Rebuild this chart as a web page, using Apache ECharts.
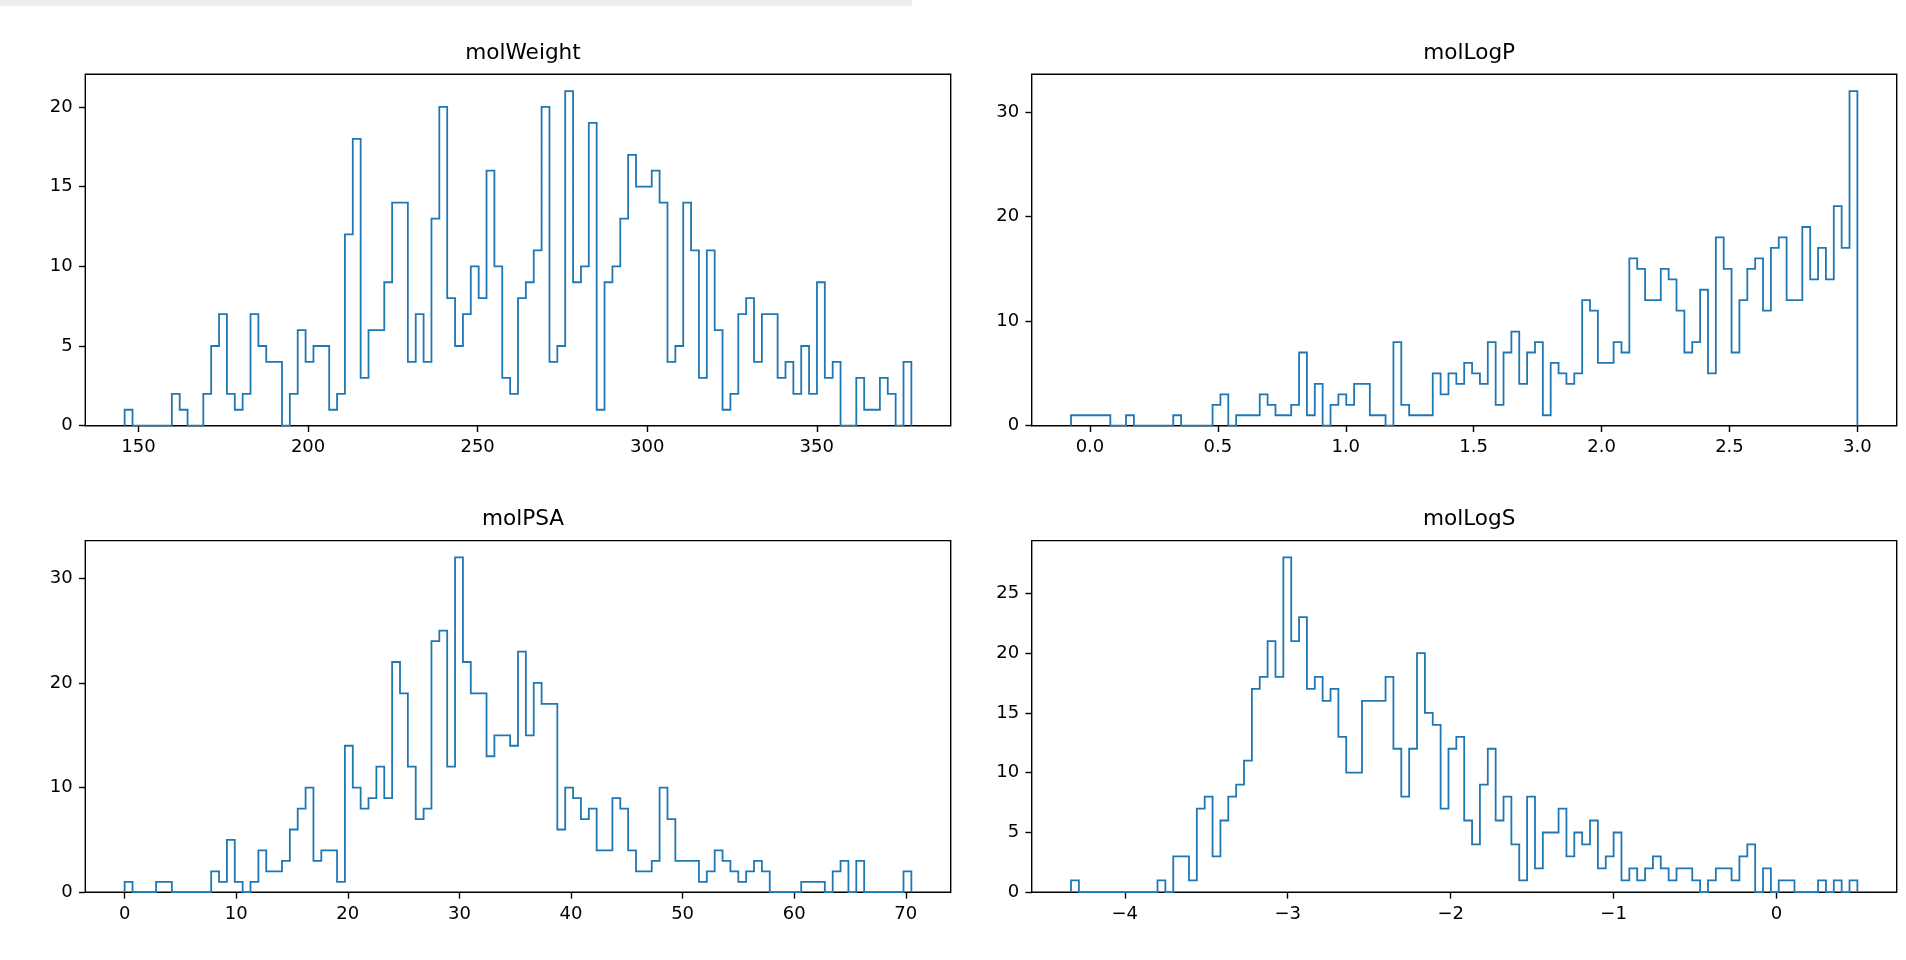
<!DOCTYPE html>
<html>
<head>
<meta charset="utf-8">
<script src="https://cdn.jsdelivr.net/npm/echarts@6/dist/echarts.min.js"></script>
<style>
  html, body { margin: 0; padding: 0; background: #ffffff; }
  #chart { width: 1906px; height: 960px; }
</style>
</head>
<body>
<div id="chart"></div>
<script>
// Histogram counts (100 equal-width bins per descriptor) and the data range each spans
const molWeightCounts = [
  1,0,0,0,0,0,2,1,0,0, 2,5,7,2,1,2,7,5,4,4, 0,2,6,4,5,5,1,2,12,18,
  3,6,6,9,14,14,4,7,4,13, 20,8,5,7,10,8,16,10,3,2, 8,9,11,20,4,5,21,9,10,19,
  1,9,10,13,17,15,15,16,14,4, 5,14,11,3,11,6,1,2,7,8, 4,7,7,3,4,2,5,2,9,3,
  4,0,0,3,1,1,3,2,0,4
];
const molWeightRange = [145.9, 377.9];
const molWeightTicks = [150, 200, 250, 300, 350];

const molLogPCounts = [
  1,1,1,1,1,0,0,1,0,0, 0,0,0,1,0,0,0,0,2,3, 0,1,1,1,3,2,1,1,2,7,
  1,4,0,2,3,2,4,4,1,1, 0,8,2,1,1,1,5,3,5,4, 6,5,4,8,2,7,9,4,7,8,
  1,6,5,4,5,12,11,6,6,8, 7,16,15,12,12,15,14,11,7,8, 13,5,18,15,7,12,15,16,11,17,
  18,12,12,19,14,17,14,21,17,32
];
const molLogPRange = [-0.074, 3.0];
const molLogPTicks = [0.0, 0.5, 1.0, 1.5, 2.0, 2.5, 3.0];

const molPSACounts = [
  1,0,0,0,1,1,0,0,0,0, 0,2,1,5,1,0,1,4,2,2, 3,6,8,10,3,4,4,1,14,10,
  8,9,12,9,22,19,12,7,8,24, 25,12,32,22,19,19,13,15,15,14, 23,15,20,18,18,6,10,9,7,8,
  4,4,9,8,4,2,2,3,10,7, 3,3,3,1,2,4,3,2,1,2, 3,2,0,0,0,0,1,1,1,0,
  2,3,0,3,0,0,0,0,0,2
];
const molPSARange = [0.0, 70.5];
const molPSATicks = [0, 10, 20, 30, 40, 50, 60, 70];

const molLogSCounts = [
  1,0,0,0,0,0,0,0,0,0, 0,1,0,3,3,1,7,8,3,6, 8,9,11,17,18,21,18,28,21,23,
  17,18,16,17,13,10,10,16,16,16, 18,12,8,12,20,15,14,7,12,13, 6,4,9,12,6,8,4,1,8,2,
  5,5,7,3,5,4,6,2,3,5, 1,2,1,2,3,2,1,2,2,1, 0,1,2,2,1,3,4,0,2,0,
  1,1,0,0,0,1,0,1,0,1
];
const molLogSRange = [-4.33, 0.496];
const molLogSTicks = [-4, -3, -2, -1, 0];

const panelTitles = ['molWeight', 'molLogP', 'molPSA', 'molLogS'];
const countTicks = [[0, 5, 10, 15, 20], [0, 10, 20, 30], [0, 10, 20, 30], [0, 5, 10, 15, 20, 25]];

const panels = [
  { counts: molWeightCounts, range: molWeightRange, ticks: molWeightTicks, fmt: v => String(v) },
  { counts: molLogPCounts, range: molLogPRange, ticks: molLogPTicks, fmt: v => v.toFixed(1) },
  { counts: molPSACounts, range: molPSARange, ticks: molPSATicks, fmt: v => String(v) },
  { counts: molLogSCounts, range: molLogSRange, ticks: molLogSTicks, fmt: v => (v < 0 ? '\u2212' + Math.abs(v) : String(v)) }
];

// Plot boxes of the 2x2 layout
const boxes = [
  { left: 85.3, top: 74.3, width: 865.4, height: 351.4 },
  { left: 1031.7, top: 74.3, width: 865.0, height: 351.4 },
  { left: 85.3, top: 540.6, width: 865.4, height: 351.7 },
  { left: 1031.7, top: 540.6, width: 865.0, height: 351.7 }
];

const FONT = 'DejaVu Sans';
const BLUE = '#1f77b4';

// Outline of a step histogram: rise at the first edge, one point per bin, drop at the last edge
function stepOutline(counts, range) {
  const n = counts.length;
  const w = (range[1] - range[0]) / n;
  const pts = [[range[0], 0]];
  counts.forEach((c, i) => pts.push([range[0] + i * w, c]));
  pts.push([range[1], counts[n - 1]]);
  pts.push([range[1], 0]);
  return pts;
}

const grid = boxes.map(b => ({
  left: b.left, top: b.top, width: b.width, height: b.height,
  show: true, borderColor: '#000000', borderWidth: 1.4, backgroundColor: 'transparent',
  containLabel: false
}));

const tickStyle = { color: '#000000', width: 1.4 };
const labelStyle = { color: '#000000', fontSize: 18, fontFamily: FONT };

const xAxis = panels.map((p, i) => {
  const span = p.range[1] - p.range[0];
  return {
    type: 'value', gridIndex: i, position: 'bottom',
    min: p.range[0] - 0.05 * span,
    max: p.range[1] + 0.05 * span,
    axisLine: { show: false, onZero: false },
    splitLine: { show: false },
    axisTick: { show: true, customValues: p.ticks, length: 6.3, inside: false, lineStyle: tickStyle },
    axisLabel: Object.assign({ customValues: p.ticks, margin: 12.6, formatter: p.fmt }, labelStyle)
  };
});

const yAxis = panels.map((p, i) => ({
  type: 'value', gridIndex: i, position: 'left',
  min: 0,
  max: 1.05 * Math.max(...p.counts),
  axisLine: { show: false, onZero: false },
  splitLine: { show: false },
  axisTick: { show: true, customValues: countTicks[i], length: 6.3, inside: false, lineStyle: tickStyle },
  axisLabel: Object.assign({ customValues: countTicks[i], margin: 12.6, formatter: v => String(v) }, labelStyle)
}));

const series = panels.map((p, i) => ({
  type: 'line', xAxisIndex: i, yAxisIndex: i,
  step: 'end', symbol: 'none', showSymbol: false,
  lineStyle: { color: BLUE, width: 1.8, join: 'miter', cap: 'butt' },
  data: stepOutline(p.counts, p.range),
  silent: true, clip: true
}));

// Titles centred over each plot box
const title = boxes.map((b, i) => ({
  text: panelTitles[i],
  left: b.left + b.width / 2, top: b.top - 37,
  textAlign: 'center',
  textStyle: { color: '#000000', fontSize: 21.6, fontWeight: 'normal', fontFamily: FONT }
}));

const chart = echarts.init(document.getElementById('chart'), null, { renderer: 'canvas' });
chart.setOption({
  animation: false,
  backgroundColor: '#ffffff',
  title: title,
  grid: grid,
  xAxis: xAxis,
  yAxis: yAxis,
  series: series,
  graphic: [
    { type: 'rect', left: 0, top: 0, shape: { width: 912, height: 6 }, style: { fill: '#eeeeee' }, silent: true }
  ]
});
</script>
</body>
</html>
